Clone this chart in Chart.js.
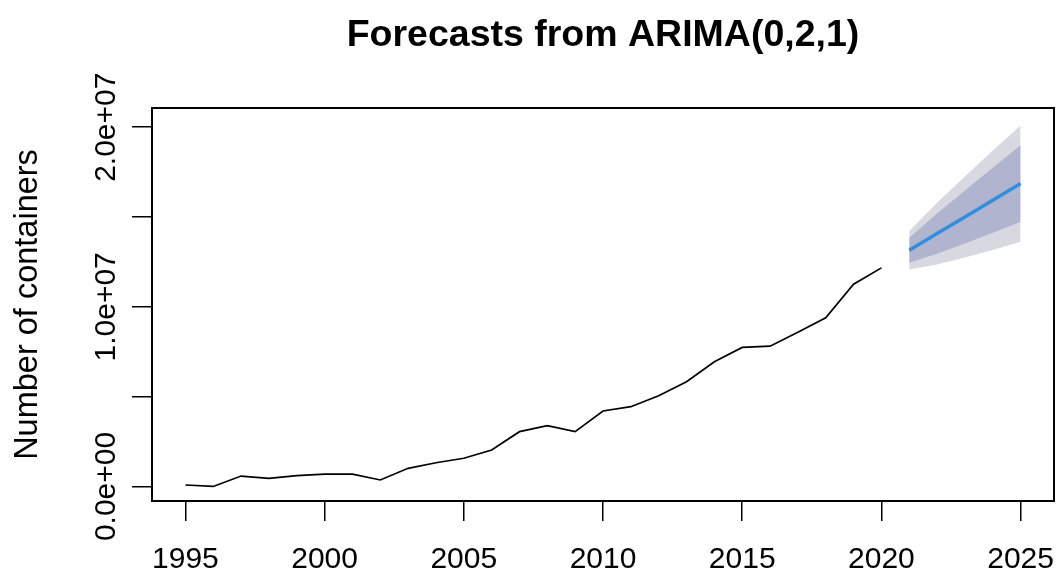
<!DOCTYPE html>
<html>
<head>
<meta charset="utf-8">
<title>Forecasts from ARIMA(0,2,1)</title>
<script src="https://cdn.jsdelivr.net/npm/chart.js@4/dist/chart.umd.min.js"></script>
<style>
  html, body { margin: 0; padding: 0; background: #fff; }
  #wrap { width: 1058px; height: 581px; }
</style>
</head>
<body>
<div id="wrap"><canvas id="forecastChart"></canvas></div>
<script>
// observed series (containers per year)
const years = [1995, 1996, 1997, 1998, 1999, 2000, 2001, 2002, 2003, 2004, 2005, 2006, 2007,
               2008, 2009, 2010, 2011, 2012, 2013, 2014, 2015, 2016, 2017, 2018, 2019, 2020];
const containers = [0.08e6, 0.0e6, 0.58e6, 0.45e6, 0.6e6, 0.69e6, 0.69e6, 0.36e6, 1.01e6, 1.32e6,
                    1.57e6, 2.03e6, 3.05e6, 3.38e6, 3.05e6, 4.2e6, 4.44e6, 5.05e6, 5.83e6, 6.94e6,
                    7.74e6, 7.81e6, 8.58e6, 9.39e6, 11.26e6, 12.17e6];

// ARIMA(0,2,1) point forecasts and intervals
const forecastYears = [2021, 2022, 2023, 2024, 2025];
const pointForecast = [13.15e6, 14.08e6, 15.0e6, 15.93e6, 16.86e6];
const lo80 = [12.45e6, 12.96e6, 13.53e6, 14.12e6, 14.72e6];
const hi80 = [13.85e6, 15.2e6, 16.47e6, 17.74e6, 19.0e6];
const lo95 = [12.08e6, 12.36e6, 12.75e6, 13.16e6, 13.62e6];
const hi95 = [14.22e6, 15.8e6, 17.25e6, 18.7e6, 20.1e6];

// axis ticks
const xTicks = [1995, 2000, 2005, 2010, 2015, 2020, 2025];
const yTicks = [0, 5e6, 10e6, 15e6, 20e6];
const yTickLabels = { 0: '0.0e+00', 10000000: '1.0e+07', 20000000: '2.0e+07' };

const xRange = [1993.8, 2026.2];
const yRange = [-0.81e6, 21.07e6];

const toPoints = (xs, ys) => xs.map((x, i) => ({ x: x, y: ys[i] }));

const shade95 = '#d8d8e0';
const shade80 = '#b1b4cf';
const fcastBlue = '#2f8fdc';

// box round the plot region
const plotBox = {
    id: 'plotBox',
    afterDraw(chart) {
        const a = chart.chartArea;
        const ctx = chart.ctx;
        ctx.save();
        ctx.strokeStyle = '#000';
        ctx.lineWidth = 2;
        ctx.strokeRect(a.left, a.top, a.right - a.left, a.bottom - a.top);
        ctx.restore();
    }
};

Chart.defaults.font.family = '"Liberation Sans", Arial, sans-serif';
Chart.defaults.color = '#000';

// lower "order" is drawn on top
const band = (data, color, fillTarget, order) => ({
    data: data,
    borderWidth: 0,
    pointRadius: 0,
    backgroundColor: color,
    fill: fillTarget,
    order: order
});

const ctx = document.getElementById('forecastChart').getContext('2d');
new Chart(ctx, {
    type: 'line',
    data: {
        datasets: [
            band(toPoints(forecastYears, hi95), shade95, '+1', 5),
            band(toPoints(forecastYears, lo95), 'transparent', false, 6),
            band(toPoints(forecastYears, hi80), shade80, '+1', 3),
            band(toPoints(forecastYears, lo80), 'transparent', false, 4),
            {
                label: 'forecast',
                data: toPoints(forecastYears, pointForecast),
                borderColor: fcastBlue,
                borderWidth: 3.5,
                pointRadius: 0,
                fill: false,
                order: 1
            },
            {
                label: 'observed',
                data: toPoints(years, containers),
                borderColor: '#000',
                borderWidth: 1.7,
                pointRadius: 0,
                fill: false,
                order: 0
            }
        ]
    },
    options: {
        responsive: true,
        maintainAspectRatio: false,
        animation: false,
        layout: { padding: { left: 0, right: 4, top: 0, bottom: 0 } },
        plugins: {
            legend: { display: false },
            tooltip: { enabled: false },
            title: {
                display: true,
                fullSize: false,
                text: 'Forecasts from ARIMA(0,2,1)',
                color: '#000',
                font: { size: 37.5, weight: 'bold' },
                padding: { top: 13, bottom: 50 }
            }
        },
        scales: {
            x: {
                type: 'linear',
                min: xRange[0],
                max: xRange[1],
                afterBuildTicks: scale => { scale.ticks = xTicks.map(v => ({ value: v })); },
                afterFit: scale => {
                    scale.height = 80;
                    scale.paddingLeft = 0;
                    scale.paddingRight = 0;
                },
                grid: { display: true, drawOnChartArea: false, drawTicks: true, tickLength: 20, color: '#000', lineWidth: 1.5 },
                border: { display: false },
                ticks: {
                    font: { size: 30 },
                    padding: 21,
                    maxRotation: 0,
                    autoSkip: false,
                    callback: v => String(v)
                }
            },
            y: {
                type: 'linear',
                min: yRange[0],
                max: yRange[1],
                afterBuildTicks: scale => { scale.ticks = yTicks.map(v => ({ value: v })); },
                afterFit: scale => {
                    scale.width = 152;
                    scale.paddingTop = 0;
                    scale.paddingBottom = 0;
                },
                grid: { display: true, drawOnChartArea: false, drawTicks: true, tickLength: 20, color: '#000', lineWidth: 1.5 },
                border: { display: false },
                ticks: {
                    font: { size: 30 },
                    minRotation: 90,
                    maxRotation: 90,
                    crossAlign: 'center',
                    padding: -29,
                    autoSkip: false,
                    callback: v => yTickLabels[v] || ''
                },
                title: {
                    display: true,
                    text: 'Number of containers',
                    color: '#000',
                    font: { size: 32.5 },
                    padding: { top: 8.5, bottom: 0 }
                }
            }
        }
    },
    plugins: [plotBox]
});
</script>
</body>
</html>
